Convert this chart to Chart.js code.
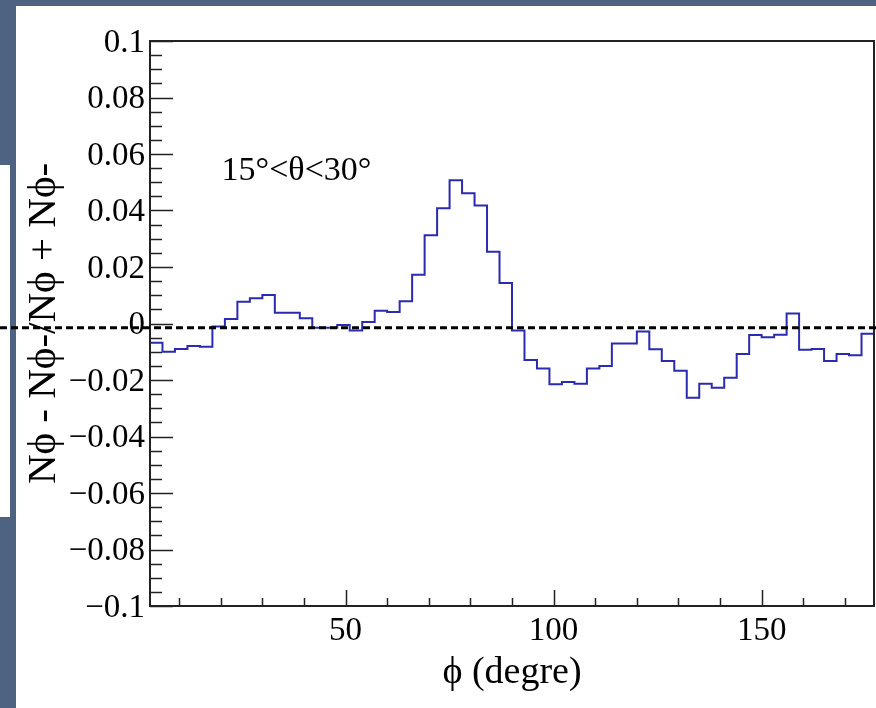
<!DOCTYPE html>
<html>
<head>
<meta charset="utf-8">
<script src="https://cdn.jsdelivr.net/npm/chart.js@4.4.0/dist/chart.umd.min.js"></script>
<style>
  html, body { margin: 0; padding: 0; }
  body { width: 876px; height: 708px; background: #4e6382; position: relative; overflow: hidden; }
  .sheet { position: absolute; left: 16px; top: 6px; right: 0; bottom: 0; background: #fff; }
  .tab { position: absolute; left: 0; top: 165px; width: 10px; height: 352px; background: #fff; }
  #wrap { position: absolute; left: 0; top: 0; width: 876px; height: 708px; }
</style>
</head>
<body>
<div class="sheet"></div>
<div class="tab"></div>
<div id="wrap"><canvas id="draw-on-me" width="876" height="708"></canvas></div>
<script>
// bin edges in phi (degrees), 3 degree bins
const phiEdges = [3, 6, 9, 12, 15, 18, 21, 24, 27, 30, 33, 36, 39, 42, 45, 48, 51, 54, 57, 60,
  63, 66, 69, 72, 75, 78, 81, 84, 87, 90, 93, 96, 99, 102, 105, 108, 111, 114, 117, 120,
  123, 126, 129, 132, 135, 138, 141, 144, 147, 150, 153, 156, 159, 162, 165, 168, 171, 174, 177]

// (N+ - N-)/(N+ + N-) per bin
const asym = [
  -0.0068, -0.0100, -0.0090, -0.0080, -0.0082, -0.0011, 0.0016, 0.0077, 0.0089, 0.0101,
  0.0038, 0.0038, 0.0019, -0.0015, -0.0015, -0.0005, -0.0025, 0.0005, 0.0045, 0.0041,
  0.0079, 0.0173, 0.0312, 0.0408, 0.0507, 0.0461, 0.0418, 0.0254, 0.0143, -0.0025,
  -0.0129, -0.0159, -0.0215, -0.0207, -0.0213, -0.0159, -0.0150, -0.0071, -0.0071, -0.0028,
  -0.0091, -0.0133, -0.0167, -0.0263, -0.0213, -0.0227, -0.0192, -0.0108, -0.0041, -0.0049,
  -0.0040, 0.0035, -0.0093, -0.0090, -0.0133, -0.0108, -0.0112, -0.0036
]

const xMajor = [50, 100, 150]
const xMinor = [10, 20, 30, 40, 60, 70, 80, 90, 110, 120, 130, 140, 160, 170]
const yMin = -0.1, yMax = 0.1, yStep = 0.02, yMinorStep = 0.005

const cutLabel = '15°<θ<30°'
const cutLabelAt = { x: 20.2, y: 0.054 }
const refLineValue = -0.0015

const serif = "'Liberation Serif', 'Times New Roman', serif"

// step histogram: each point opens a bin, the last point closes it
const points = phiEdges.map((x, i) => ({ x: x, y: asym[Math.min(i, asym.length - 1)] }))

const rootStyle = {
  id: 'rootStyle',
  afterDatasetsDraw(chart) {
    const { ctx, chartArea: a, scales: { x, y } } = chart
    ctx.save()
    ctx.strokeStyle = '#222'
    ctx.lineWidth = 1.5
    ctx.beginPath()
    // y ticks, inward
    for (let v = yMin; v <= yMax + 1e-9; v += yMinorStep) {
      const r = Math.round(v * 1000) / 1000
      const major = Math.abs(Math.round(r / yStep) * yStep - r) < 1e-9
      const py = Math.round(y.getPixelForValue(r)) + 0.5
      ctx.moveTo(a.left, py)
      ctx.lineTo(a.left + (major ? 23 : 12), py)
    }
    // x ticks, inward
    xMajor.concat(xMinor).forEach(v => {
      const px = Math.round(x.getPixelForValue(v)) + 0.5
      ctx.moveTo(px, a.bottom)
      ctx.lineTo(px, a.bottom - (xMajor.includes(v) ? 16 : 8))
    })
    ctx.stroke()
    // frame
    ctx.lineWidth = 2
    ctx.strokeRect(a.left, a.top, a.right - a.left, a.bottom - a.top)
    // cut label
    ctx.fillStyle = '#000'
    ctx.font = '34px ' + serif
    ctx.textAlign = 'left'
    ctx.textBaseline = 'middle'
    ctx.fillText(cutLabel, x.getPixelForValue(cutLabelAt.x), y.getPixelForValue(cutLabelAt.y))
    ctx.restore()
  },
  afterDraw(chart) {
    const { ctx, scales: { y } } = chart
    const py = y.getPixelForValue(refLineValue)
    ctx.save()
    ctx.strokeStyle = '#000'
    ctx.lineWidth = 3
    ctx.setLineDash([7, 4])
    ctx.beginPath()
    ctx.moveTo(0, py)
    ctx.lineTo(chart.width, py)
    ctx.stroke()
    ctx.restore()
  }
}

const ctx = document.getElementById('draw-on-me').getContext('2d')
const myChart = new Chart(ctx, {
  type: 'line',
  data: {
    datasets: [{
      label: 'asym',
      data: points,
      stepped: 'before',
      borderColor: '#2b2bb0',
      borderWidth: 2,
      pointRadius: 0,
      fill: false
    }]
  },
  options: {
    responsive: false,
    animation: false,
    devicePixelRatio: 1,
    layout: { padding: { left: 0, top: 41, right: 2, bottom: 0 } },
    plugins: { legend: { display: false }, tooltip: { enabled: false } },
    scales: {
      x: {
        type: 'linear',
        min: 3,
        max: 177,
        grid: { display: false, drawTicks: false },
        border: { display: false },
        ticks: {
          stepSize: 50,
          includeBounds: false,
          maxRotation: 0,
          padding: 6,
          color: '#000',
          font: { family: serif, size: 33 }
        },
        title: {
          display: true,
          text: 'ϕ (degre)',
          color: '#000',
          font: { family: serif, size: 38 },
          padding: { top: 0, bottom: 12 }
        },
        afterFit: s => { s.height = 102 }
      },
      y: {
        min: yMin,
        max: yMax,
        grid: { display: false, drawTicks: false },
        border: { display: false },
        ticks: {
          stepSize: yStep,
          padding: 5,
          labelOffset: 2,
          color: '#000',
          font: { family: serif, size: 33 },
          callback: v => {
            const r = Math.round(v * 1000) / 1000
            if (r === 0) return '0'
            return (r < 0 ? '\u2212' : '') + String(Math.abs(r))
          }
        },
        title: {
          display: true,
          text: 'Nϕ - Nϕ-/Nϕ + Nϕ-',
          color: '#000',
          font: { family: serif, size: 41 },
          padding: { top: 20, bottom: 0 }
        },
        afterFit: s => { s.width = 150 }
      }
    }
  },
  plugins: [rootStyle]
})
</script>
</body>
</html>
